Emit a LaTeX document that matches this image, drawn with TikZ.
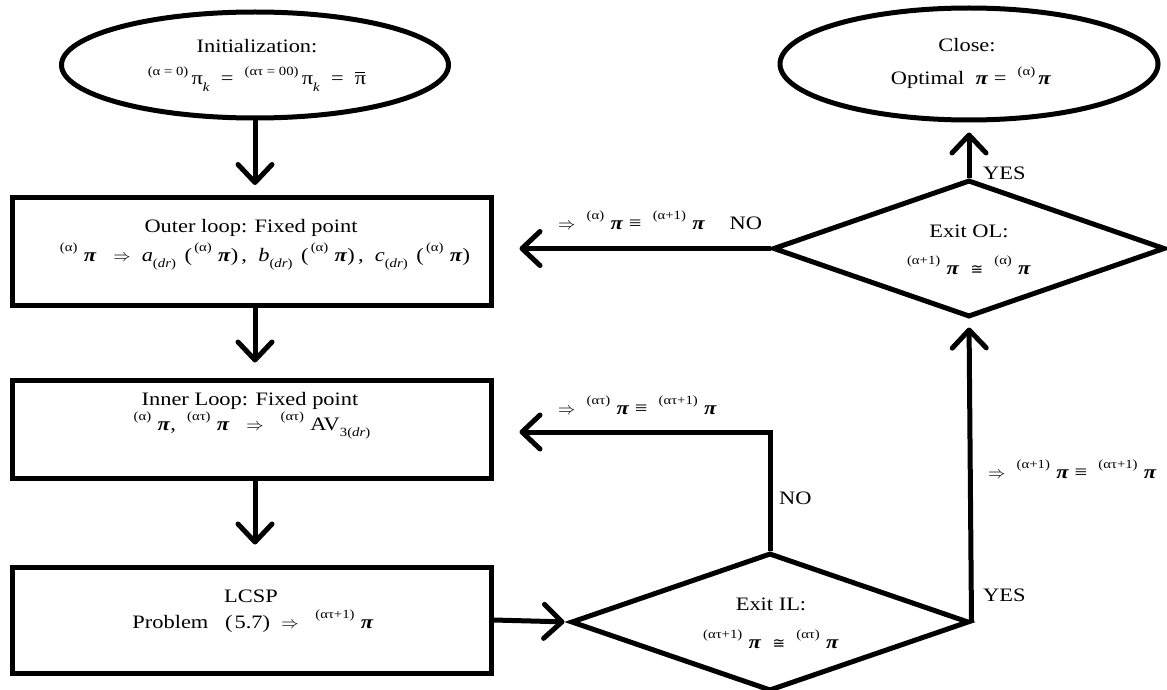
\documentclass[tikz,border=0pt]{standalone}
\usepackage{fontspec}
\setmainfont{Liberation Serif}[FakeStretch=1.18]
\newfontfamily\symf{DejaVu Sans}
\usetikzlibrary{shapes.geometric,arrows.meta}
\newcommand{\pf}[1]{\raisebox{0.5em}{\fontsize{12.5}{12.5}\selectfont(#1)}\,}
\newcommand{\bpi}{\textbf{\textit{π}}}
\newcommand{\sbs}[1]{\raisebox{-0.35em}{\fontsize{12.5}{12.5}\selectfont #1}}
\newcommand{\barpi}{\leavevmode\rlap{\raisebox{0.62em}{\rule{0.55em}{0.9pt}}}π}
\newcommand{\approxeq}{{\symf\fontsize{15}{15}\selectfont ≅}}
\tikzset{
  shp/.style={draw=black, line width=5pt, inner sep=0pt},
  boxnode/.style={shp, rectangle, minimum width=479pt},
  ellnode/.style={shp, ellipse},
  dianode/.style={shp, diamond},
  txt/.style={font=\fontsize{19}{21}\selectfont, inner sep=0pt, anchor=base},
  conn/.style={line width=5pt, -{Straight Barb[length=18pt,width=34pt,line width=5pt,round]}},
}
\begin{document}
\begin{tikzpicture}[x=1pt,y=-1pt]
\useasboundingbox (0,0) rectangle (1167,690);
% shapes
\node[ellnode, minimum width=387pt, minimum height=106pt] (init) at (255,65) {};
\node[ellnode, minimum width=378pt, minimum height=112pt] (close) at (969,64) {};
\node[boxnode, minimum height=108pt] (outer) at (251.5,251.5) {};
\node[boxnode, minimum height=98pt] (inner) at (251.5,429) {};
\node[boxnode, minimum height=106pt] (lcsp) at (251.5,620) {};
\node[dianode, minimum width=398pt, minimum height=138pt] (il) at (770,622) {};
\node[dianode, minimum width=392pt, minimum height=137pt] (ol) at (969,248.5) {};
% texts
\node[txt] (tinit1) at (257,53) {Initialization:};
\node[txt] (tinit2) at (257,85) {\pf{α = 0}π\sbs{\textit{k}}\ \ =\ \ \pf{ατ = 00}π\sbs{\textit{k}}\ \ =\ \ \barpi};
\node[txt] (tclose1) at (967,52) {Close:};
\node[txt] (tclose2) at (971,85) {Optimal\ \ \bpi\ =\ \ \pf{α}\bpi};
\node[txt] (touter1) at (251,232) {Outer loop: Fixed point};
\node[txt] (touter2) at (265,261) {\pf{α}\,\bpi\ \ \ $\Rightarrow$\ \ \textit{a}\sbs{(\textit{dr})}\hspace{0.45em}(\hspace{0.12em}\pf{α}\,\bpi)\,,\ \ \textit{b}\sbs{(\textit{dr})}\hspace{0.45em}(\hspace{0.12em}\pf{α}\,\bpi)\,,\ \ \textit{c}\sbs{(\textit{dr})}\hspace{0.45em}(\hspace{0.12em}\pf{α}\,\bpi)};
\node[txt] (tinner1) at (250,405) {Inner Loop: Fixed point};
\node[txt] (tinner2) at (252,430) {\pf{α}\,\bpi,\ \ \pf{ατ}\,\bpi\ \ \ $\Rightarrow$\ \ \ \pf{ατ}\,AV\sbs{3(\textit{dr})}};
\node[txt] (tlcsp1) at (251,602) {LCSP};
\node[txt] (tlcsp2) at (253,628) {Problem\ \ \ (\hspace{0.1em}5.7)\ \ $\Rightarrow$\ \ \ \pf{ατ+1}\,\bpi};
\node[txt] (tol1) at (969,237) {Exit OL:};
\node[txt] (tol2) at (969,274) {\pf{α+1}\,\bpi\ \ \approxeq\ \ \pf{α}\,\bpi};
\node[txt] (til1) at (771,610) {Exit IL:};
\node[txt] (til2) at (771,648) {\pf{ατ+1}\,\bpi\ \ \approxeq\ \ \pf{ατ}\,\bpi};
% labels
\node[txt, anchor=base west] (lab1) at (558,229) {$\Rightarrow$\ \ \pf{α}\,\bpi\ ≡\ \ \pf{α+1}\,\bpi\quad\ NO};
\node[txt, anchor=base west] (lab2) at (558,414) {$\Rightarrow$\ \ \pf{ατ}\,\bpi\ ≡\ \ \pf{ατ+1}\,\bpi};
\node[txt, anchor=base west] (lab3) at (779,504) {NO};
\node[txt, anchor=base west] (lab4) at (988,478) {$\Rightarrow$\ \ \pf{α+1}\,\bpi\ ≡\ \ \pf{ατ+1}\,\bpi};
\node[txt, anchor=base west] (lab5) at (983,179) {YES};
\node[txt, anchor=base west] (lab6) at (983,601) {YES};
% connectors
\coordinate (nobend) at (770,432);
\draw[conn, shorten >=10pt] (init.south) -- (init.south |- outer.north);
\draw[conn, shorten >=15pt] (outer.south -| init.south) -- (inner.north -| init.south);
\draw[conn, shorten >=20pt] (inner.south -| init.south) -- (lcsp.north -| init.south);
\draw[conn, shorten >=4pt] (lcsp.east) -- (il.west);
\draw[conn, shorten >=26pt] (il.north) -- (nobend) -- (nobend -| inner.east);
\draw[conn, shorten >=26pt] (ol.west) -- (ol.west -| outer.east);
\draw[conn, shorten >=8pt] (il.east) -- (ol.south);
\draw[conn, shorten >=10pt] (ol.north) -- (close.south);
\end{tikzpicture}
\end{document}
